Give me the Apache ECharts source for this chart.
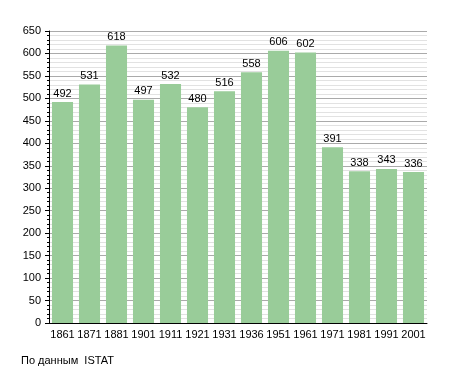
<!DOCTYPE html>
<html><head><meta charset="utf-8">
<script src="https://cdn.jsdelivr.net/npm/echarts@6/dist/echarts.min.js"></script>
<style>html,body{margin:0;padding:0;background:#fff}#c{width:455px;height:373px}</style>
</head><body><div id="c"></div>
<script>
const years = ['1861','1871','1881','1901','1911','1921','1931','1936','1951','1961','1971','1981','1991','2001'];
const population = [492,531,618,497,532,480,516,558,606,602,391,338,343,336];
const yTicks = {min:0, max:650, interval:50};
const chart = echarts.init(document.getElementById('c'), null, {renderer:'canvas'});
const font = 'Liberation Sans, Arial, sans-serif';
chart.setOption({
  animation:false,
  backgroundColor:'#fff',
  title:{text:'По данным  ISTAT', left:16, top:350, textStyle:{fontSize:11, fontWeight:'normal', color:'#000', fontFamily:font}},
  grid:{left:49, right:28, top:31, bottom:50},
  xAxis:{type:'category', data:years,
    axisLine:{lineStyle:{color:'#000', width:1}},
    axisTick:{show:false},
    axisLabel:{color:'#000', fontSize:11, fontFamily:font, margin:6, interval:0}},
  yAxis:{type:'value', min:yTicks.min, max:yTicks.max, interval:yTicks.interval,
    axisLine:{show:true, lineStyle:{color:'#000'}},
    axisTick:{show:true, length:4, lineStyle:{color:'#000'}},
    minorTick:{show:true, splitNumber:5, length:2, lineStyle:{color:'#000'}},
    splitLine:{lineStyle:{color:'#aaa', width:1}},
    minorSplitLine:{show:true, lineStyle:{color:'#e2e2e2', width:1}},
    axisLabel:{color:'#000', fontSize:11, fontFamily:font, margin:8}},
  series:[{type:'bar', data:population, barCategoryGap:'22%',
    itemStyle:{color:'#99cc99'},
    label:{show:true, position:'top', color:'#000', fontSize:11, fontFamily:font, distance:3}}]
});
</script></body></html>
